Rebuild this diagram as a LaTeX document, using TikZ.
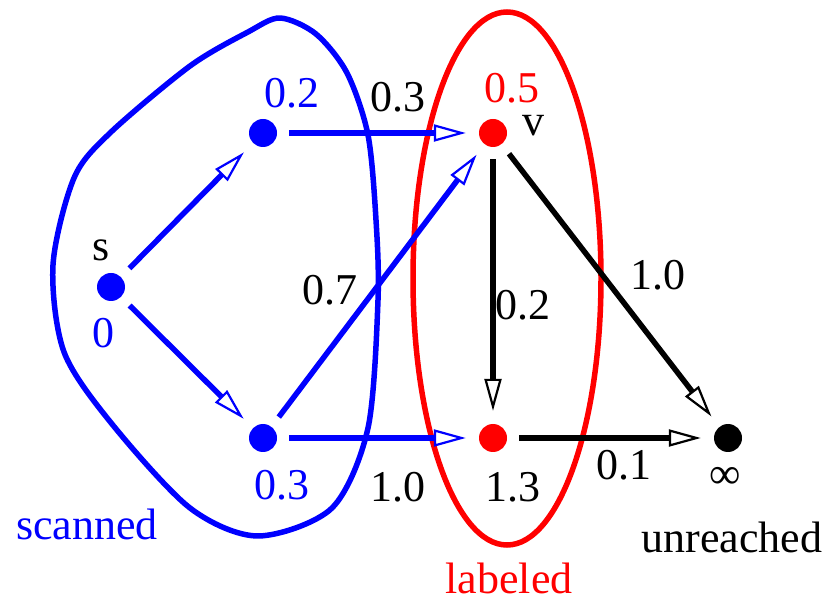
\documentclass[tikz,border=0pt]{standalone}
\usepackage{fontspec}
\setmainfont{Liberation Serif}
\usetikzlibrary{arrows.meta}
\definecolor{myblue}{RGB}{0,0,255}
\definecolor{myred}{RGB}{255,0,0}
\tikzset{
  vert/.style={circle,fill,minimum size=28pt,inner sep=0pt},
  lbl/.style={font=\rmfamily\fontsize{44}{50}\selectfont,inner sep=0pt},
  edge/.style={line width=5.5pt,shorten <=12pt,shorten >=13pt,
    -{Triangle[open,length=32pt,width=17pt,line width=2.2pt]}},
}
\begin{document}
\begin{tikzpicture}[x=1pt,y=-1pt]
\useasboundingbox (0,0) rectangle (825,601);
% regions
\draw[myblue,line width=5.5pt,line join=round] plot[smooth cycle,tension=0.5] coordinates{
 (280,18) (316,34) (347,73) (368,135) (376,220) (378,300) (368,428) (332,508)
 (258,536) (190,508) (112,424) (64,352) (53,265) (74,178) (110,133)
 (190,66) (248,32)};
\draw[myred,line width=5.5pt] (507,278.5) ellipse[x radius=94,y radius=266.5];
% vertices
\node[vert,myblue] (s) at (111,287) {};
\node[vert,myblue] (a) at (263,133) {};
\node[vert,myblue] (b) at (263,438) {};
\node[vert,myred] (v) at (493,133) {};
\node[vert,myred] (w) at (493,438) {};
\node[vert,black] (u) at (728,438) {};
% edges
\draw[edge,myblue] (s) -- (a);
\draw[edge,myblue] (s) -- (b);
\draw[edge,myblue] (a) -- (v);
\draw[edge,myblue] (b) -- (v);
\draw[edge,myblue] (b) -- (w);
\draw[edge,black] (v) -- (w);
\draw[edge,black] (v) -- (u);
\draw[edge,black] (w) -- (u);
% labels
\node[lbl] (ls) at (101,250) {s};
\node[lbl,myblue] (l0) at (103,333) {0};
\node[lbl,myblue] (la) at (292,93) {0.2};
\node[lbl,myblue] (lb) at (282,485) {0.3};
\node[lbl,myred] (lv) at (512,88) {0.5};
\node[lbl] (lvv) at (533,126) {v};
\node[lbl] (lw) at (513,487) {1.3};
\node[lbl] (lu) at (725,478) {∞};
\node[lbl] (e1) at (398,97) {0.3};
\node[lbl] (e2) at (330,290) {0.7};
\node[lbl] (e3) at (523,305) {0.2};
\node[lbl] (e4) at (658,275) {1.0};
\node[lbl] (e5) at (398,487) {1.0};
\node[lbl] (e6) at (624,465) {0.1};
\node[lbl,myblue] (t1) at (87,524) {scanned};
\node[lbl,myred] (t2) at (509,578) {labeled};
\node[lbl] (t3) at (732,537) {unreached};
\end{tikzpicture}
\end{document}
